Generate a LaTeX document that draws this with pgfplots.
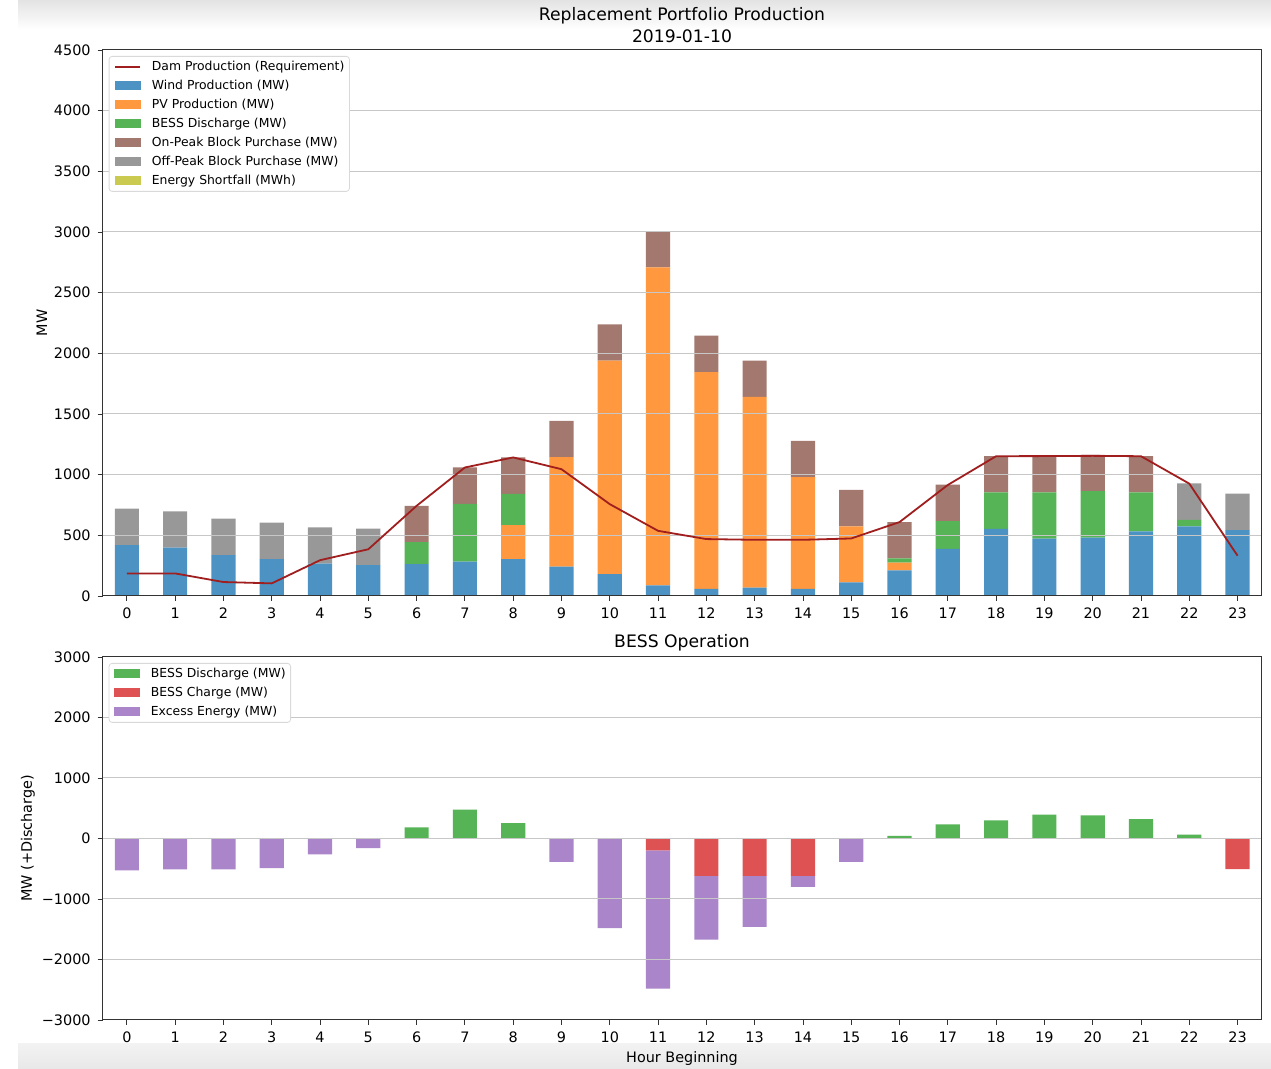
\documentclass[border=0pt]{standalone}
\usepackage{fontspec}
\setmainfont{DejaVu Sans}
\usepackage{pgfplots}
\usepackage{pgfplotstable}
\pgfplotsset{compat=1.18}

\definecolor{windc}{RGB}{76,146,195}
\definecolor{pvc}{RGB}{255,152,62}
\definecolor{bessc}{RGB}{86,179,86}
\definecolor{onc}{RGB}{163,120,111}
\definecolor{offc}{RGB}{152,152,152}
\definecolor{shortc}{RGB}{201,202,79}
\definecolor{chargec}{RGB}{222,82,83}
\definecolor{excessc}{RGB}{170,133,202}
\definecolor{damc}{RGB}{160,30,30}

\pgfplotstableread{
h wind pv bess on off dam
0 420 0 0 0 300 186
1 398 0 0 0 300 186
2 337 0 0 0 300 115
3 304 0 0 0 300 104
4 266 0 0 0 300 295
5 255 0 0 0 300 385
6 263 0 180 300 0 743
7 283 0 476 300 0 1059
8 304 280 258 300 0 1142
9 241 903 0 300 0 1045
10 181 1758 0 300 0 757
11 88 2620 0 300 0 537
12 58 1788 0 300 0 469
13 69 1571 0 300 0 463
14 58 921 0 300 0 463
15 112 462 0 300 0 474
16 211 63 35 300 0 609
17 389 0 228 300 0 915
18 554 0 299 300 0 1152
19 472 0 381 300 0 1153
20 480 0 384 300 0 1155
21 532 0 321 300 0 1152
22 573 0 55 0 300 926
23 543 0 0 0 300 332
}\toptable

\pgfplotstableread{
h dis chg exc
0 0 0 -529
1 0 0 -512
2 0 0 -512
3 0 0 -490
4 0 0 -262
5 0 0 -160
6 185 0 0
7 478 0 0
8 256 0 0
9 0 0 -385
10 0 0 -1480
11 0 -198 -2282
12 0 -617 -1053
13 0 -617 -843
14 0 -617 -183
15 0 0 -385
16 45 0 0
17 235 0 0
18 298 0 0
19 395 0 0
20 382 0 0
21 320 0 0
22 65 0 0
23 0 -507 0
}\bottable

\pgfplotsset{
  mystyle/.style={
    scale only axis, width=579.5pt,
    xmin=-0.5, xmax=23.5, xtick={0,...,23},
    tick align=outside, tick pos=left, major tick length=2.5pt,
    tick style={black!80, line width=0.4pt},
    axis line style={black!80, line width=0.5pt},
    ymajorgrids, grid style={black!22, line width=0.5pt},
    ticklabel style={font=\fontsize{7.2}{8.6}\selectfont},
    /pgf/number format/assume math mode=true,
    /pgf/number format/1000 sep={},
    axis on top,
  },
  legstyle/.style={
    legend cell align=left,
    legend style={at={(0,1)}, anchor=north west, xshift=3pt, yshift=-3pt,
      draw=black!15, rounded corners=1.5pt, fill=white,
      font=\fontsize{6.2}{7}\selectfont,
      inner xsep=2.5pt, inner ysep=2pt, row sep=3pt,
      nodes={inner sep=0pt, text height=5pt, text depth=1.5pt},
      /tikz/every even column/.append style={column sep=2pt},
      /tikz/every odd column/.append style={column sep=5.5pt}},
  },
  barleg/.style={legend image code/.code={\fill[#1, sharp corners] (0pt,-2pt) rectangle (12.5pt,2pt);}},
}

\begin{document}
\begin{tikzpicture}
\useasboundingbox (0pt,0pt) rectangle (635.5pt,534.5pt);
\shade[top color=black!11, bottom color=white] (9pt,520pt) rectangle (635.5pt,534.5pt);
\shade[top color=black!5, bottom color=black!9] (9pt,0pt) rectangle (635.5pt,12.5pt);

% ---- Top chart: bars
\begin{axis}[mystyle, at={(51.35pt,236.5pt)}, anchor=south west, height=273pt,
  ymin=0, ymax=4500, ytick={0,500,...,4500},
  ybar stacked, bar width=0.5]
\addplot[fill=windc, draw=none, forget plot] table[x=h,y=wind]{\toptable};
\addplot[fill=pvc, draw=none, forget plot] table[x=h,y=pv]{\toptable};
\addplot[fill=bessc, draw=none, forget plot] table[x=h,y=bess]{\toptable};
\addplot[fill=onc, draw=none, forget plot] table[x=h,y=on]{\toptable};
\addplot[fill=offc, draw=none, forget plot] table[x=h,y=off]{\toptable};
\end{axis}

% ---- Top chart: requirement line and legend
\begin{axis}[scale only axis, width=579.5pt, height=273pt,
  at={(51.35pt,236.5pt)}, anchor=south west,
  xmin=-0.5, xmax=23.5, ymin=0, ymax=4500, hide axis, legstyle]
\addlegendimage{legend image code/.code={\draw[damc, line width=0.9pt, sharp corners] (0pt,0pt) -- (12.5pt,0pt);}}
\addlegendentry{Dam Production (Requirement)}
\addlegendimage{barleg=windc}
\addlegendentry{Wind Production (MW)}
\addlegendimage{barleg=pvc}
\addlegendentry{PV Production (MW)}
\addlegendimage{barleg=bessc}
\addlegendentry{BESS Discharge (MW)}
\addlegendimage{barleg=onc}
\addlegendentry{On-Peak Block Purchase (MW)}
\addlegendimage{barleg=offc}
\addlegendentry{Off-Peak Block Purchase (MW)}
\addlegendimage{barleg=shortc}
\addlegendentry{Energy Shortfall (MWh)}
\addplot[damc, line width=0.9pt, forget plot] table[x=h,y=dam]{\toptable};
\end{axis}

% ---- Bottom chart
\begin{axis}[mystyle, at={(51.35pt,24.5pt)}, anchor=south west, height=181.5pt,
  ymin=-3000, ymax=3000, ytick={-3000,-2000,...,3000},
  yticklabels={−3000,−2000,−1000,0,1000,2000,3000},
  ybar stacked, bar width=0.5, legstyle]
\addlegendimage{barleg=bessc}
\addlegendentry{BESS Discharge (MW)}
\addlegendimage{barleg=chargec}
\addlegendentry{BESS Charge (MW)}
\addlegendimage{barleg=excessc}
\addlegendentry{Excess Energy (MW)}
\addplot[fill=bessc, draw=none, forget plot] table[x=h,y=dis]{\bottable};
\addplot[fill=chargec, draw=none, forget plot] table[x=h,y=chg]{\bottable};
\addplot[fill=excessc, draw=none, forget plot] table[x=h,y=exc]{\bottable};
\end{axis}

% ---- Titles and labels
\node[font=\fontsize{8.6}{10}\selectfont] at (341pt,526.5pt) {Replacement Portfolio Production};
\node[font=\fontsize{8.6}{10}\selectfont] at (341pt,516.5pt) {2019-01-10};
\node[font=\fontsize{8.6}{10}\selectfont] at (341pt,213pt) {BESS Operation};
\node[font=\fontsize{7.2}{8.6}\selectfont] at (341pt,5pt) {Hour Beginning};
\node[font=\fontsize{7.2}{8.6}\selectfont, rotate=90] at (21pt,373pt) {MW};
\node[font=\fontsize{7.2}{8.6}\selectfont, rotate=90] at (14pt,115.25pt) {MW (+Discharge)};
\end{tikzpicture}
\end{document}
